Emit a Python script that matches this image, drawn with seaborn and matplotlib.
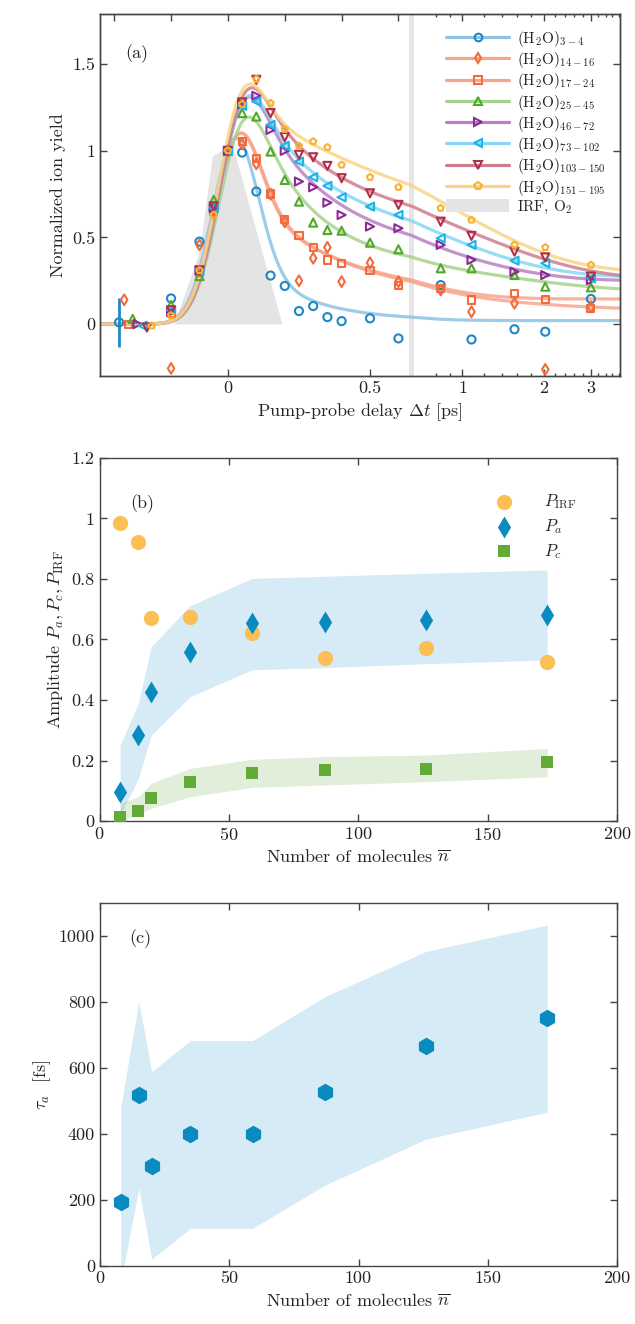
import math
import numpy as np
import seaborn as sns
import matplotlib.pyplot as plt
from matplotlib.lines import Line2D
from matplotlib.patches import Patch
from matplotlib.ticker import FixedLocator, FuncFormatter, NullFormatter

# -----------------------------------------------
# Panel (a) data: normalized ion yield vs delay
# -----------------------------------------------
delays = [-0.2, -0.1, -0.05, 0.0, 0.05, 0.1, 0.15, 0.2, 0.25, 0.3, 0.35, 0.4,
          0.5, 0.6, 0.83, 1.08, 1.56, 2.03, 3.0]

cluster_labels = ['3-4', '14-16', '17-24', '25-45', '46-72', '73-102', '103-150', '151-195']
early_t = [-0.383, -0.365, -0.351, -0.335, -0.318, -0.300, -0.285, -0.268]
early_y = [0.01, 0.14, 0.0, 0.03, 0.0, -0.01, -0.02, -0.01]
early_err_34 = 0.14

y_3_4 = [0.148, 0.476, 0.66, 1.0, 0.99, 0.765, 0.28, 0.22, 0.075, 0.104, 0.04, 0.017,
         0.033, -0.083, 0.225, -0.089, -0.03, -0.044, 0.145]
y_14_16 = [-0.256, 0.457, 0.64, 1.0, 1.04, 0.925, 0.75, 0.59, 0.25, 0.38, 0.443, 0.245,
           0.354, 0.245, 0.197, 0.071, 0.12, -0.262, 0.1]
y_17_24 = [0.06, 0.30, 0.65, 1.0, 1.054, 0.958, 0.751, 0.605, 0.509, 0.443, 0.37, 0.351,
           0.308, 0.225, 0.206, 0.139, 0.177, 0.143, 0.09]
y_25_45 = [0.11, 0.277, 0.717, 1.0, 1.218, 1.198, 0.996, 0.832, 0.707, 0.586, 0.543, 0.539,
           0.47, 0.432, 0.322, 0.322, 0.283, 0.216, 0.212]
y_46_72 = [0.07, 0.31, 0.67, 1.0, 1.27, 1.318, 1.121, 1.0, 0.823, 0.79, 0.701, 0.63,
           0.563, 0.553, 0.457, 0.37, 0.302, 0.283, 0.254]
y_73_102 = [0.08, 0.31, 0.67, 1.0, 1.26, 1.285, 1.15, 1.029, 0.938, 0.848, 0.798, 0.732,
            0.678, 0.63, 0.495, 0.457, 0.366, 0.351, 0.264]
y_103_150 = [0.08, 0.31, 0.68, 1.0, 1.28, 1.41, 1.218, 1.079, 0.977, 0.963, 0.913, 0.842,
             0.755, 0.688, 0.591, 0.509, 0.418, 0.385, 0.274]
y_151_195 = [0.05, 0.31, 0.63, 1.002, 1.27, 1.414, 1.276, 1.125, 1.029, 1.054, 1.021, 0.919,
             0.848, 0.79, 0.669, 0.601, 0.457, 0.443, 0.341]

# fit model parameters per cluster size (IRF, two decays, step)
fit_a = [0.90, 0.70, 0.72, 0.45, 0.50, 0.50, 0.48, 0.60]
fit_b = [0.42, 0.62, 0.64, 0.25, 0.52, 0.67, 0.70, 1.00]
fit_tb = [0.20, 0.30, 0.35, 1.30, 0.75, 0.80, 1.10, 0.90]
fit_c = [0.0, 0.13, 0.0, 1.05, 0.75, 0.55, 0.60, 0.0]
fit_tc = [1.0, 1.30, 1.0, 0.19, 0.20, 0.18, 0.19, 1.0]
fit_d = [0.02, 0.085, 0.145, 0.19, 0.25, 0.27, 0.26, 0.30]
T0 = 0.02
SIG = 0.08

# IRF measured on O2
irf_t = [-0.19, -0.1, -0.055, 0.015, 0.19]
irf_y = [0.0, 0.42, 0.97, 1.04, 0.0]

# -----------------------------------------------
# Panel (b) and (c) data
# -----------------------------------------------
n_mol = [8, 15, 20, 35, 59, 87, 126, 173]
p_irf = [0.986, 0.923, 0.670, 0.675, 0.620, 0.539, 0.571, 0.527]
p_a = [0.097, 0.284, 0.425, 0.560, 0.653, 0.659, 0.664, 0.681]
p_a_lo = [0.02, 0.14, 0.284, 0.411, 0.50, 0.507, 0.52, 0.532]
p_a_hi = [0.25, 0.39, 0.576, 0.712, 0.802, 0.809, 0.819, 0.83]
p_c = [0.014, 0.034, 0.075, 0.128, 0.158, 0.169, 0.172, 0.196]
p_c_lo = [0.0, 0.02, 0.042, 0.08, 0.111, 0.119, 0.13, 0.146]
p_c_hi = [0.06, 0.08, 0.125, 0.174, 0.204, 0.213, 0.218, 0.24]

tau_a = [195, 518, 303, 400, 400, 526, 668, 750]
tau_lo = [-50, 235, 21, 114, 114, 245, 384, 466]
tau_hi = [481, 801, 589, 683, 683, 816, 953, 1033]

# -----------------------------------------------
# Styling
# -----------------------------------------------
sns.set_theme(style='ticks')
plt.rcParams.update({
    'font.family': 'serif',
    'font.serif': ['cmr10'],
    'mathtext.fontset': 'cm',
    'axes.formatter.use_mathtext': True,
    'axes.unicode_minus': False,
    'font.size': 13,
    'axes.labelsize': 13,
    'xtick.labelsize': 13,
    'ytick.labelsize': 13,
    'xtick.direction': 'in',
    'ytick.direction': 'in',
    'axes.edgecolor': '#444444',
    'axes.linewidth': 1.0,
    'xtick.color': '#444444',
    'ytick.color': '#444444',
    'xtick.labelcolor': '#222222',
    'ytick.labelcolor': '#222222',
    'xtick.major.size': 5,
    'ytick.major.size': 5,
    'xtick.minor.size': 2.5,
    'xtick.major.width': 1.0,
    'ytick.major.width': 1.0,
})

marker_colors = ['#1f87c6', '#f26b3a', '#f26b3a', '#52a82d', '#8b2a98', '#18b4ea', '#b0304a', '#f8b230']
line_colors = ['#8cc3e6', '#f7a58c', '#f7a58c', '#a6d38c', '#b981c2', '#86d6f5', '#cf7d8d', '#fbd484']
markers = ['o', 'd', 's', '^', '>', '<', 'v', 'p']
msizes = [34, 30, 26, 34, 34, 34, 34, 22]

# linear up to the break, logarithmic after it
BRK = 0.645
DEC = 0.947


def fwd(x):
    x = np.asarray(x, dtype=float)
    return np.where(x <= BRK, x, BRK + DEC * np.log10(np.maximum(x, 1e-6) / BRK))


def inv(y):
    y = np.asarray(y, dtype=float)
    return np.where(y <= BRK, y, BRK * 10 ** ((np.minimum(y, 20) - BRK) / DEC))


erfc = np.vectorize(math.erfc)


def model(t, a, b, tb, c, tc, d):
    dt = t - T0
    g = np.exp(-dt ** 2 / (2 * SIG ** 2))
    step = 0.5 * erfc(-dt / (SIG * np.sqrt(2)))

    def conv(tau):
        return 0.5 * np.exp(SIG ** 2 / (2 * tau ** 2) - dt / tau) * erfc((SIG / tau - dt / SIG) / np.sqrt(2))

    return a * g + b * conv(tb) + c * conv(tc) + d * step


fig = plt.figure(figsize=(6.35, 13.24), dpi=100)
ax_a = fig.add_axes([0.1575, 0.716, 0.819, 0.2734])
ax_b = fig.add_axes([0.1567, 0.3799, 0.815, 0.2742])
ax_c = fig.add_axes([0.1575, 0.0438, 0.8142, 0.2742])

# -----------------------------------------------
# Panel (a)
# -----------------------------------------------
ax = ax_a
ax.set_xscale('function', functions=(fwd, inv))
xlim_a = (-0.45, 3.85)
ax.set_xlim(xlim_a)
ax.set_ylim(-0.3, 1.79)

ax.fill_between(irf_t, irf_y, 0, color='#e4e4e4', lw=0, zorder=0)
ax.axvspan(0.637, 0.662, color='#e6e6e6', lw=0, zorder=0)

t_model = np.concatenate([np.linspace(-0.45, BRK, 300), np.geomspace(BRK, 3.9, 200)])
all_y = [y_3_4, y_14_16, y_17_24, y_25_45, y_46_72, y_73_102, y_103_150, y_151_195]

for i in range(8):
    curve = model(t_model, fit_a[i], fit_b[i], fit_tb[i], fit_c[i], fit_tc[i], fit_d[i])
    sns.lineplot(x=t_model, y=curve, ax=ax, color=line_colors[i], lw=2.3, alpha=0.85,
                 errorbar=None, zorder=2)

ax.errorbar(early_t[0], early_y[0], yerr=early_err_34, color=marker_colors[0],
            lw=2.0, capsize=0, zorder=3)

for i in range(8):
    xs = [early_t[i]] + delays
    ys = [early_y[i]] + all_y[i]
    sns.scatterplot(x=xs, y=ys, ax=ax, marker=markers[i], s=msizes[i], facecolors='none',
                    edgecolor=marker_colors[i], linewidth=1.5, zorder=4)

ax.set_xticks([0, 0.5, 1, 2, 3])
ax.set_xticklabels(['0', '0.5', '1', '2', '3'])
minor_log = [0.8, 0.9, 1.2, 1.4, 1.6, 1.8, 2.2, 2.4, 2.6, 2.8, 3.2, 3.4, 3.6, 3.8]
ax.xaxis.set_minor_locator(FixedLocator(minor_log))
ax.xaxis.set_minor_formatter(NullFormatter())
ax.set_yticks([0, 0.5, 1, 1.5])
ax.yaxis.set_major_formatter(FuncFormatter(lambda v, p: f'{v:g}'))
ax.tick_params(axis='y', right=True)
ax.tick_params(axis='x', top=False)
ax.set_xlabel(r'Pump-probe delay $\Delta t$ [ps]')
ax.set_ylabel('Normalized ion yield')

axt = ax.twiny()
axt.set_xscale('function', functions=(fwd, inv))
axt.set_xlim(xlim_a)
axt.xaxis.set_major_locator(FixedLocator([-0.4, -0.2, 0, 0.2, 0.4, 0.6, 1, 2, 3]))
axt.xaxis.set_minor_locator(FixedLocator(minor_log))
axt.xaxis.set_major_formatter(NullFormatter())
axt.xaxis.set_minor_formatter(NullFormatter())
axt.tick_params(axis='x', which='both', direction='in', top=True, labeltop=False)

ax.text(0.07, 0.89, '(a)', transform=ax.transAxes, ha='center', va='center', fontsize=13)

handles = []
for i in range(8):
    handles.append(Line2D([], [], color=line_colors[i], lw=2.3, marker=markers[i],
                          mfc='none', mec=marker_colors[i], mew=1.5, ms=5.5))
handles.append(Patch(facecolor='#e4e4e4', edgecolor='none'))
leg_labels = [r'$(\mathrm{H_2O})_{%s}$' % lab for lab in cluster_labels] + [r'IRF, O$_2$']
ax.legend(handles, leg_labels, loc='upper left', bbox_to_anchor=(0.66, 0.967), frameon=False,
          fontsize=11, handlelength=4.1, handletextpad=0.5, labelspacing=0.08,
          borderaxespad=0, borderpad=0.2, handleheight=0.9)

# -----------------------------------------------
# Panel (b)
# -----------------------------------------------
ax = ax_b
ax.fill_between(n_mol, p_a_lo, p_a_hi, color='#0d8cc7', alpha=0.17, lw=0, zorder=0)
ax.fill_between(n_mol, p_c_lo, p_c_hi, color='#5ca832', alpha=0.18, lw=0, zorder=0)
sns.scatterplot(x=n_mol, y=p_irf, ax=ax, marker='o', s=120, color='#fbbf55', linewidth=0,
                label=r'$P_{\mathrm{IRF}}$', zorder=3)
sns.scatterplot(x=n_mol, y=p_a, ax=ax, marker='d', s=125, color='#0a8bc0', linewidth=0,
                label=r'$P_a$', zorder=3)
sns.scatterplot(x=n_mol, y=p_c, ax=ax, marker='s', s=75, color='#62ab36', linewidth=0,
                label=r'$P_c$', zorder=3)
ax.set_xlim(0, 200)
ax.set_ylim(0, 1.2)
ax.set_xticks([0, 50, 100, 150, 200])
ax.set_yticks([0, 0.2, 0.4, 0.6, 0.8, 1.0, 1.2])
ax.yaxis.set_major_formatter(FuncFormatter(lambda v, p: f'{v:g}'))
ax.tick_params(top=True, right=True)
ax.set_xlabel(r'Number of molecules $\overline{n}$')
ax.set_ylabel(r'Amplitude $P_a, P_c, P_{\mathrm{IRF}}$')
ax.text(0.082, 0.875, '(b)', transform=ax.transAxes, ha='center', va='center', fontsize=13)
ax.legend(loc='upper left', bbox_to_anchor=(0.766, 0.905), frameon=False, fontsize=12,
          handletextpad=1.9, labelspacing=0.35, borderaxespad=0, borderpad=0,
          handlelength=1.0)

# -----------------------------------------------
# Panel (c)
# -----------------------------------------------
ax = ax_c
ax.fill_between(n_mol, tau_lo, tau_hi, color='#0d8cc7', alpha=0.17, lw=0, zorder=0)
sns.scatterplot(x=n_mol, y=tau_a, ax=ax, marker='h', s=160, color='#0a8bc0', linewidth=0,
                zorder=3)
ax.set_xlim(0, 200)
ax.set_ylim(0, 1100)
ax.set_xticks([0, 50, 100, 150, 200])
ax.set_yticks([0, 200, 400, 600, 800, 1000])
ax.yaxis.set_major_formatter(FuncFormatter(lambda v, p: f'{v:g}'))
ax.xaxis.set_major_formatter(FuncFormatter(lambda v, p: f'{v:g}'))
ax.tick_params(top=True, right=True)
ax.set_xlabel(r'Number of molecules $\overline{n}$')
ax.set_ylabel(r'$\tau_a$  [fs]')
ax.text(0.077, 0.903, '(c)', transform=ax.transAxes, ha='center', va='center', fontsize=13)

fig.savefig('out.png', dpi=100)
plt.close(fig)
